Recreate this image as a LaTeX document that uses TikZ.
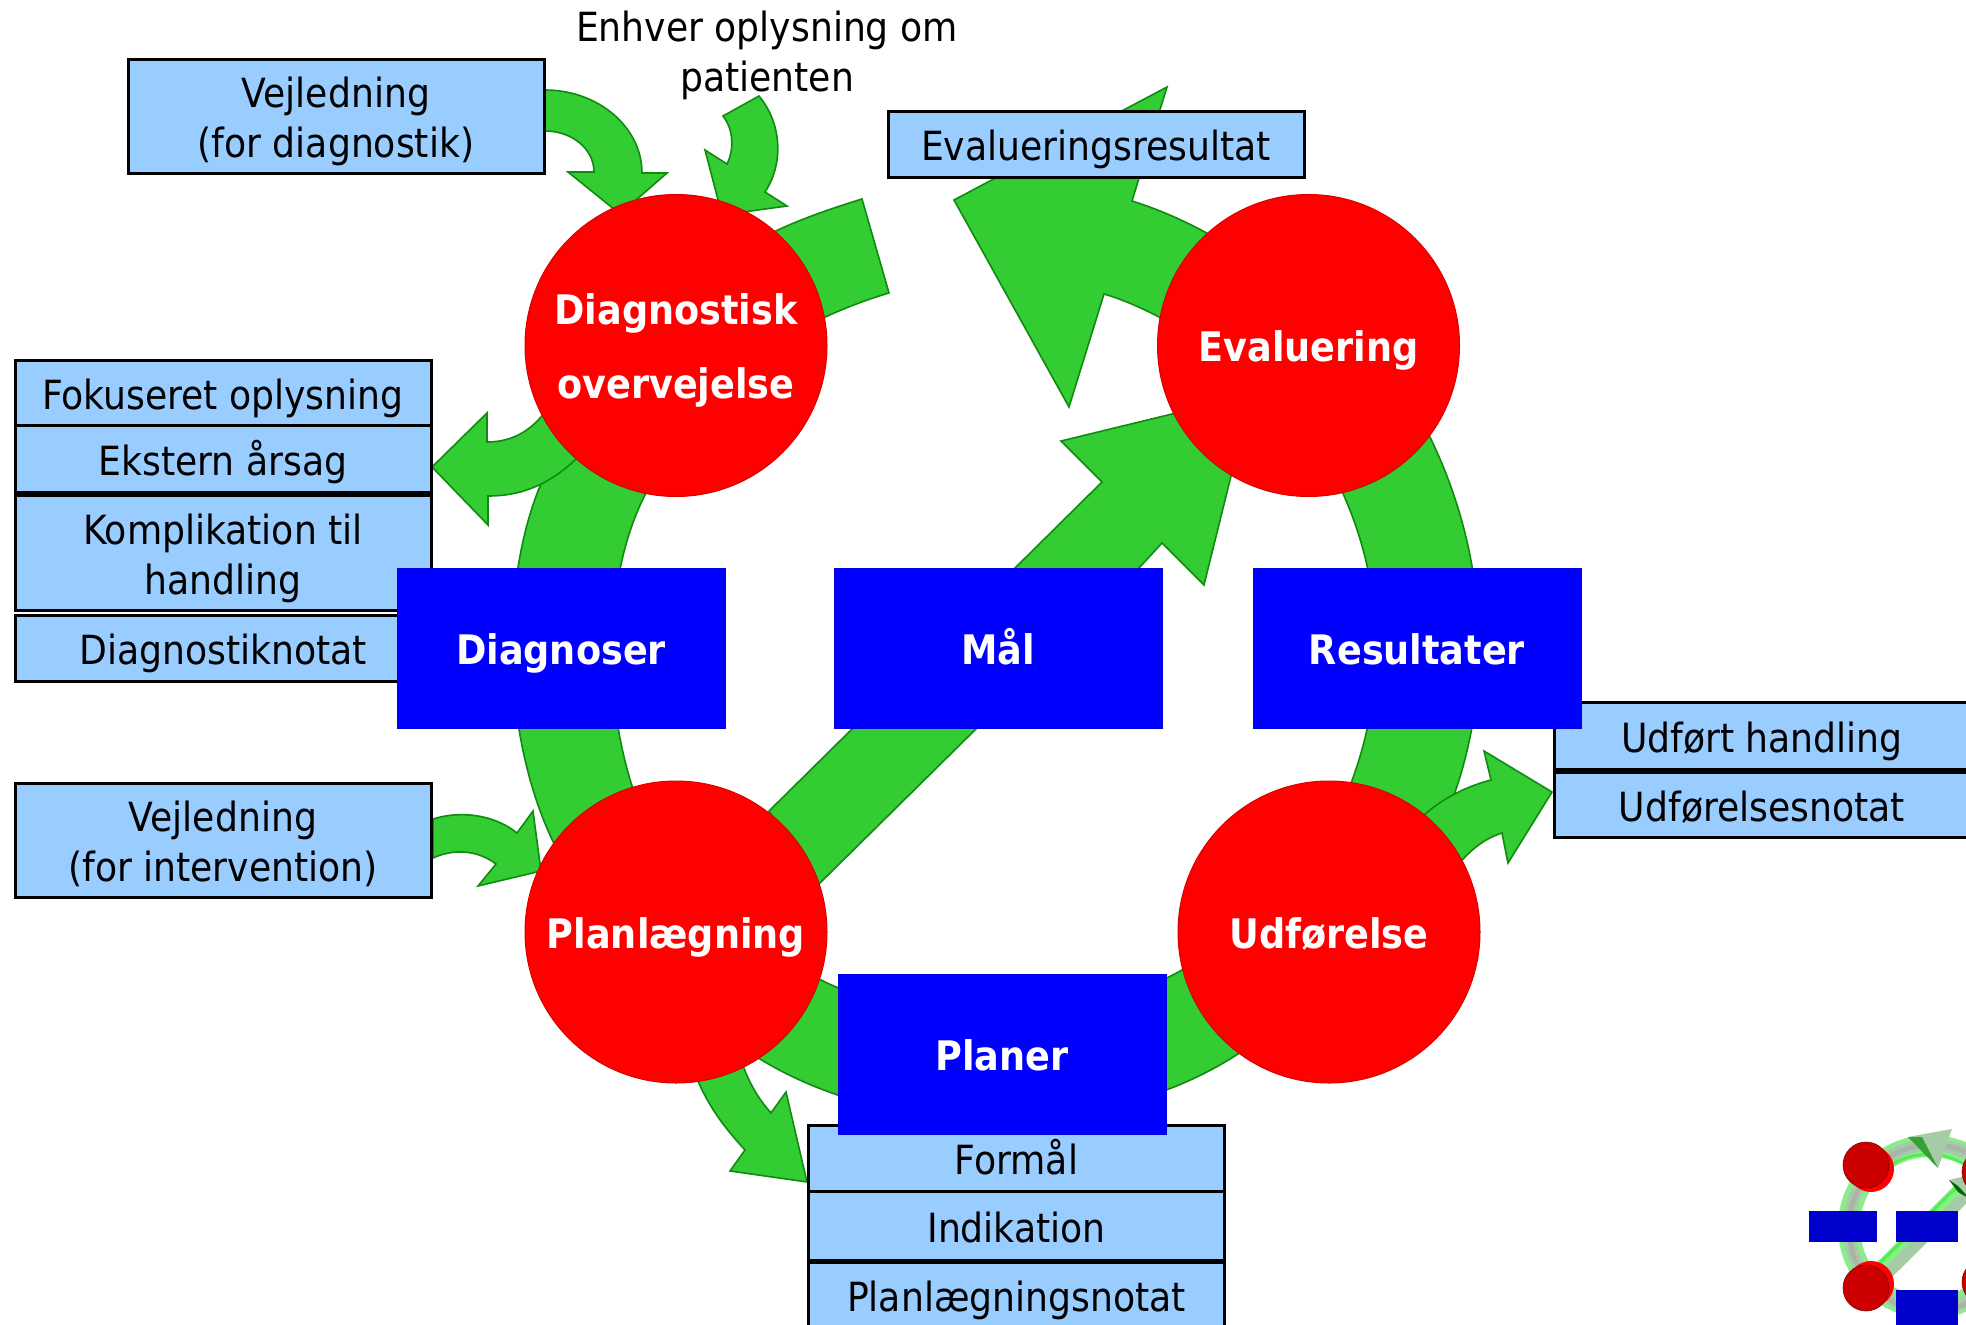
\documentclass[tikz,border=0pt]{standalone}
\usepackage{fontspec}
\setmainfont{DejaVu Sans Condensed}
\begin{document}
\definecolor{arrowgreen}{HTML}{33CC33}
\definecolor{arrowedge}{HTML}{118A11}
\definecolor{boxblue}{HTML}{99CCFF}
\definecolor{tubegreen}{HTML}{8CEB8C}
\definecolor{tubegrey}{HTML}{A6CBA6}
\definecolor{tubecore}{HTML}{A9B5A9}
\definecolor{tubebright}{HTML}{4CF04C}
\newcommand{\txtfont}{\fontsize{40.2}{50}\selectfont}
\newcommand{\capfont}{\fontsize{40.7}{74}\selectfont\bfseries}
\newcommand{\lwr}[1]{\vbox{\kern13pt\hbox{\begin{tabular}{@{}c@{}}#1\end{tabular}}}}
\newcommand{\lwc}[1]{\vbox{\kern3pt\hbox{\begin{tabular}{@{}c@{}}#1\end{tabular}}}}
\tikzset{
  flow/.style={fill=arrowgreen,draw=arrowedge,line width=1.6pt,line join=miter},
  infobox/.style={rectangle,draw=black,fill=boxblue,line width=3pt,minimum width=416pt,inner sep=0pt,outer sep=0pt,font=\txtfont,text=black},
  actbox/.style={rectangle,fill=blue,draw=blue!85!black,line width=1pt,minimum width=328pt,minimum height=160pt,inner sep=0pt,outer sep=0pt,font=\capfont,text=white},
  phase/.style={circle,fill=red,draw=red!85!black,line width=1pt,minimum size=302pt,inner sep=0pt,outer sep=0pt,font=\capfont,text=white},
  plain/.style={inner sep=0pt,font=\txtfont,text=black},
  minirect/.style={rectangle,fill=blue!80!black,inner sep=0pt,outer sep=0pt},
  minidisc/.style={circle,fill=red!80!black,draw=black!50!red,line width=.6pt,minimum size=46pt,inner sep=0pt},
  minidiscb/.style={circle,fill=red,minimum size=46pt,inner sep=0pt}
}
\begin{tikzpicture}[x=1pt,y=-1pt]
\path[use as bounding box,clip] (0,0) rectangle (1966,1325);
\fill[white] (0,0) rectangle (1966,1325);

% --- main cycle ---
\draw[flow] (565,440) .. controls (493,540) and (493,760) .. (575,880) -- (660,850)
  .. controls (596,740) and (596,560) .. (660,470) -- cycle;
\draw[flow] (1410,400) .. controls (1493,540) and (1499,700) .. (1440,830) -- (1330,830)
  .. controls (1393,710) and (1393,570) .. (1320,450) -- cycle;
\draw[flow] (720,1030) .. controls (860,1150) and (1130,1150) .. (1270,1030) -- (1210,950)
  .. controls (1120,1030) and (880,1035) .. (790,960) -- cycle;
% stub leaving Diagnostisk overvejelse
\draw[flow] (740,250) .. controls (780,226) and (820,212) .. (862,199) -- (889,293)
  .. controls (855,303) and (820,318) .. (790,335) -- cycle;
% big arrow out of Evaluering
\draw[flow] (1167,87) -- (954,200) -- (1069,407) -- (1104,294)
  .. controls (1135,303) and (1170,322) .. (1200,340) -- (1250,260)
  .. controls (1210,232) and (1170,213) .. (1132,201) -- cycle;
% diagonal arrow
\draw[flow] (769,811) -- (1015,568) -- (1102,482) -- (1061,441) -- (1172,414) -- (1250,390) -- (1231,476) -- (1204,585) -- (1162,543) -- (1139,568) -- (819,884) -- cycle;

% --- small arrows ---
\draw[flow] (545,90) .. controls (598,90) and (642,127) .. (642,173) -- (667,173) -- (620,214) -- (568,172) -- (594,172)
  .. controls (594,149) and (572,131) .. (545,131) -- cycle;
\draw[flow] (759,96) -- (723,116) .. controls (734,130) and (734,150) .. (727,164) -- (705,150) -- (722,215) -- (787,206) -- (765,192)
  .. controls (783,165) and (783,125) .. (759,96) -- cycle;
\draw[flow] (432,467) -- (487,413) -- (487,442) .. controls (515,442) and (535,428) .. (550,405) -- (585,450)
  .. controls (555,482) and (525,496) .. (488,496) -- (488,525) -- cycle;
\draw[flow] (433,819) .. controls (461,810) and (495,815) .. (517,833) -- (533,811) -- (541,871) -- (478,886) -- (496,864)
  .. controls (475,848) and (450,850) .. (433,858) -- cycle;
\draw[flow] (690,1060) .. controls (703,1100) and (722,1125) .. (745,1150) -- (730,1171) -- (807,1182) -- (786,1092) -- (771,1113)
  .. controls (755,1095) and (745,1075) .. (738,1050) -- cycle;
\draw[flow] (1410,830) .. controls (1430,805) and (1460,788) .. (1491,780) -- (1484,751) -- (1552,792) -- (1508,863) -- (1502,833)
  .. controls (1480,840) and (1465,855) .. (1450,875) -- cycle;

% --- information boxes ---
\node[infobox,minimum height=114pt] (vejldiag) at (336,116) {\lwr{Vejledning\\(for diagnostik)}};
\node[infobox,minimum height=65pt] (fokus) at (223,392.5) {\lwr{Fokuseret oplysning}};
\node[infobox,minimum height=67pt] (ekstern) at (223,458.5) {\lwr{Ekstern årsag}};
\node[infobox,minimum height=115pt] (kompl) at (223,552.5) {\lwr{Komplikation til\\handling}};
\node[infobox,minimum height=66pt] (dianotat) at (223,648) {\lwr{Diagnostiknotat}};
\node[infobox,minimum height=114pt] (vejlint) at (223,840) {\lwr{Vejledning\\(for intervention)}};
\node[infobox,minimum height=66pt] (evalres) at (1096,144) {\lwr{Evalueringsresultat}};
\node[infobox,minimum height=67pt] (udfhand) at (1762,735.5) {\lwr{Udført handling}};
\node[infobox,minimum height=65pt] (udfnotat) at (1762,804.5) {\lwr{Udførelsesnotat}};
\node[infobox,minimum height=66pt] (formaal) at (1016.5,1158) {\lwr{Formål}};
\node[infobox,minimum height=69pt] (indik) at (1016.5,1225.5) {\lwr{Indikation}};
\node[infobox,minimum height=66pt] (plannotat) at (1016.5,1295) {\lwr{Planlægningsnotat}};

\node[plain] (enhver) at (767,50) {\lwr{Enhver oplysning om\\patienten}};

% --- activity boxes ---
\node[actbox] (diagnoser) at (561,648) {\lwc{Diagnoser}};
\node[actbox] (maal) at (998,648) {\lwc{Mål}};
\node[actbox] (result) at (1417,648) {\lwc{Resultater}};
\node[actbox] (planer) at (1002,1054.5) {\lwc{Planer}};

% --- phases ---
\node[phase] (diagov) at (676,345.5) {\lwc{Diagnostisk\\overvejelse}};
\node[phase] (evalu) at (1308.5,345.5) {\lwc{Evaluering}};
\node[phase] (planl) at (676,932) {\lwc{Planlægning}};
\node[phase] (udfor) at (1329,932) {\lwc{Udførelse}};

% --- small copy of the cycle ---
\draw[line width=22pt,color=tubegreen] (1930,1227) circle (81);
\draw[line width=12pt,color=tubegrey] (1931,1227) circle (82);
\draw[line width=5pt,color=tubecore] (1932,1228) circle (83);
\draw[line width=2.5pt,color=tubebright] (1878,1175) arc (-135:-60:71);
\draw[line width=21pt,color=tubegreen] (1880,1274) -- (1975,1180);
\draw[line width=11pt,color=tubegrey] (1885,1276) -- (1978,1184);
\draw[line width=3pt,color=tubebright] (1877,1266) -- (1965,1179);
\fill[arrowedge] (1878,1262) -- (1889,1273) -- (1883,1279) -- (1872,1268) -- cycle;
\fill[tubegrey] (1908,1137) -- (1952,1129) -- (1938,1168) -- cycle;
\fill[green!55!black!80!white] (1908,1137) -- (1922,1137) -- (1938,1168) -- cycle;
\fill[tubegrey] (1949,1180) -- (1970,1175) -- (1970,1199) -- cycle;
\fill[green!40!black] (1949,1180) -- (1958,1186) -- (1970,1199) -- (1958,1192) -- cycle;
\node[minidiscb] (mb1) at (1871,1169) {};
\node[minidisc] (m1) at (1866,1165) {};
\node[minidiscb] (mb2) at (1871,1284) {};
\node[minidisc] (m2) at (1866,1288) {};
\node[minidisc] (m3) at (1985,1172) {};
\node[minidisc] (m4) at (1985,1282) {};
\node[minirect,minimum width=68pt,minimum height=31pt] (r1) at (1843,1226.5) {};
\node[minirect,minimum width=62pt,minimum height=31pt] (r2) at (1927,1226.5) {};
\node[minirect,minimum width=62pt,minimum height=40pt] (r3) at (1927,1310) {};
\end{tikzpicture}
\end{document}
